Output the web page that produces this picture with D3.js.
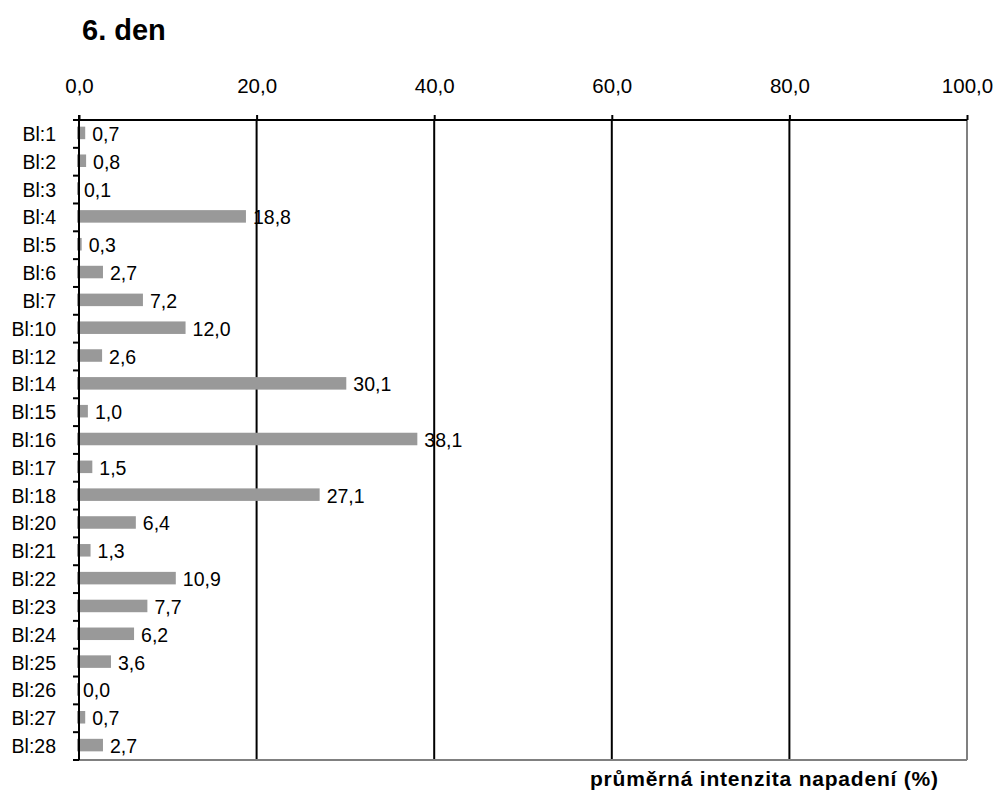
<!DOCTYPE html>
<html>
<head>
<meta charset="utf-8">
<script src="https://cdn.jsdelivr.net/npm/d3@7"></script>
<style>
  body { margin: 0; background: #fff; }
  svg { display: block; font-family: "Liberation Sans", Arial, sans-serif; }
</style>
</head>
<body>
<svg id="chart" width="995" height="790"></svg>
<script>
// Average infestation intensity per block, day 6
const blocks = ["Bl:1","Bl:2","Bl:3","Bl:4","Bl:5","Bl:6","Bl:7","Bl:10","Bl:12","Bl:14","Bl:15","Bl:16","Bl:17","Bl:18","Bl:20","Bl:21","Bl:22","Bl:23","Bl:24","Bl:25","Bl:26","Bl:27","Bl:28"];
const intensity = [0.7,0.8,0.1,18.8,0.3,2.7,7.2,12.0,2.6,30.1,1.0,38.1,1.5,27.1,6.4,1.3,10.9,7.7,6.2,3.6,0.0,0.7,2.7];
const xTicks = [0,20,40,60,80,100];
const title = "6. den";
const xTitle = "průměrná intenzita napadení (%)";

const svg = d3.select("#chart");
const plotL = 79, plotR = 967, plotT = 120, plotB = 760;

const x = d3.scaleLinear().domain([0, 100]).range([plotL, plotR]);
const y = d3.scaleBand().domain(blocks).range([plotT, plotB]).paddingInner(0.55).paddingOuter(0.275);
const fmt = v => v.toFixed(1).replace(".", ",");

// vertical gridlines
svg.append("g").selectAll("line")
  .data(xTicks.filter(t => t > 0 && t < 100))
  .join("line")
  .attr("x1", d => x(d)).attr("x2", d => x(d))
  .attr("y1", plotT).attr("y2", plotB)
  .attr("stroke", "#000").attr("stroke-width", 2);

// plot frame: right and bottom edges in grey
svg.append("line").attr("x1", x(100)).attr("x2", x(100)).attr("y1", plotT).attr("y2", plotB)
  .attr("stroke", "#808080").attr("stroke-width", 2);
svg.append("line").attr("x1", plotL).attr("x2", plotR).attr("y1", plotB).attr("y2", plotB)
  .attr("stroke", "#808080").attr("stroke-width", 2);

// bars
svg.append("g").selectAll("rect")
  .data(blocks)
  .join("rect")
  .attr("x", x(0) - 2)
  .attr("y", d => y(d) - 1)
  .attr("width", (d, i) => Math.max(0, x(intensity[i]) - x(0)) + 2)
  .attr("height", y.bandwidth())
  .attr("fill", "#999999");

// value labels
svg.append("g").selectAll("text")
  .data(blocks)
  .join("text")
  .attr("x", (d, i) => x(intensity[i]) + (intensity[i] > 0.2 ? 7 : 4))
  .attr("y", d => y(d) + y.bandwidth() / 2)
  .attr("dy", "0.36em")
  .attr("font-size", 19.5)
  .attr("fill", "#000")
  .text((d, i) => fmt(intensity[i]));

// top axis
const xAxis = d3.axisTop(x).tickValues(xTicks).tickSize(5).tickPadding(22).tickFormat(fmt);
const gx = svg.append("g").attr("transform", `translate(0,${plotT})`).call(xAxis);
gx.select(".domain").attr("stroke", "#000").attr("stroke-width", 2).attr("d", `M${plotL},0H${plotR}`);
gx.selectAll(".tick line").attr("stroke", "#000").attr("stroke-width", 2);
gx.selectAll(".tick text").attr("font-size", 20.5).attr("font-family", "Liberation Sans, Arial, sans-serif").attr("fill", "#000");

// left axis: category labels with boundary ticks
const gy = svg.append("g");
gy.append("line").attr("x1", plotL).attr("x2", plotL).attr("y1", plotT - 5).attr("y2", plotB)
  .attr("stroke", "#000").attr("stroke-width", 2);
const step = y.step();
const bounds = d3.range(blocks.length + 1).map(i => plotT + i * step);
gy.selectAll("line.tk").data(bounds).join("line").attr("class", "tk")
  .attr("x1", plotL - 6).attr("x2", plotL).attr("y1", d => d).attr("y2", d => d)
  .attr("stroke", "#000").attr("stroke-width", 2);
gy.selectAll("text").data(blocks).join("text")
  .attr("x", 56)
  .attr("y", d => y(d) + y.bandwidth() / 2)
  .attr("dy", "0.36em")
  .attr("text-anchor", "end")
  .attr("font-size", 19.5)
  .attr("fill", "#000")
  .text(d => d);

// titles
svg.append("text").attr("x", 82).attr("y", 40)
  .attr("font-size", 29).attr("font-weight", "bold").text(title);
svg.append("text").attr("x", 590).attr("y", 786)
  .attr("font-size", 21).attr("font-weight", "bold")
  .attr("textLength", 348).attr("lengthAdjust", "spacing")
  .text(xTitle);
</script>
</body>
</html>
